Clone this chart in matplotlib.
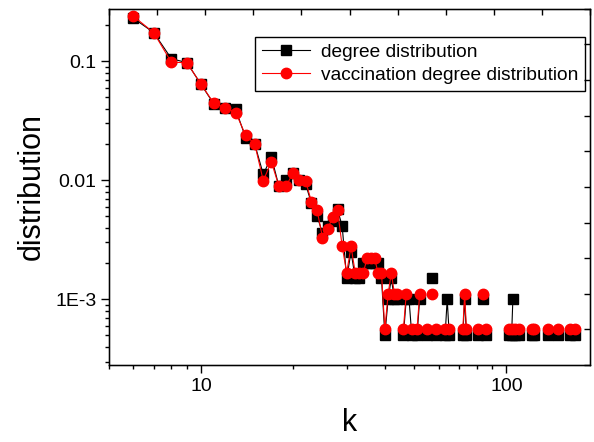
import numpy as np
import matplotlib
matplotlib.use("Agg")
import matplotlib.pyplot as plt
from matplotlib.ticker import FixedLocator, FuncFormatter, LogLocator, NullFormatter

plt.rcParams['font.family'] = ['Liberation Sans', 'DejaVu Sans']

# degree distribution (black squares); k values with zero count are absent
k_deg = [6, 7, 8, 9, 10, 11, 12, 13, 14, 15, 16, 17, 18, 19, 20, 21, 22, 23, 24, 25, 26, 27, 28,
         29, 30, 31, 32, 33, 34, 35, 36, 37, 38, 39, 40, 41, 42, 43, 44, 46, 47, 48, 49, 51, 52, 55,
         57, 59, 63, 64, 65, 72, 73, 74, 81, 84, 86, 102, 104, 105, 107, 110, 121, 123, 137, 147,
         162, 168]
p_deg = [0.23, 0.174, 0.105, 0.097, 0.064, 0.044, 0.0406, 0.0393, 0.0228, 0.0201, 0.0112, 0.0157,
         0.0089, 0.0101, 0.0115, 0.0100, 0.0093, 0.0064, 0.0050, 0.0036, 0.0041, 0.0045, 0.0057,
         0.0041, 0.0015, 0.0025, 0.0015, 0.0015, 0.002, 0.002, 0.002, 0.002, 0.002, 0.0015, 0.0005,
         0.001, 0.0015, 0.001, 0.001, 0.0005, 0.001, 0.001, 0.0005, 0.0005, 0.001, 0.0005,
         0.0015, 0.0005, 0.0005, 0.001, 0.0005, 0.0005, 0.001, 0.0005, 0.0005, 0.001, 0.0005,
         0.0005, 0.0005, 0.001, 0.0005, 0.0005, 0.0005, 0.0005, 0.0005, 0.0005, 0.0005, 0.0005]

# vaccination degree distribution (red circles)
k_vac = [6, 7, 8, 9, 10, 11, 12, 13, 14, 15, 16, 17, 18, 19, 20, 21, 22, 23, 24, 25, 26, 27, 28,
         29, 30, 31, 32, 33, 34, 35, 36, 37, 38, 39, 40, 41, 42, 43, 44, 46, 47, 49, 51, 52, 55,
         57, 59, 63, 65, 72, 73, 74, 81, 84, 86, 102, 104, 107, 110, 121, 123, 137, 147,
         162, 168]
p_vac = [0.239, 0.174, 0.098, 0.097, 0.064, 0.0446, 0.0406, 0.037, 0.0239, 0.0201, 0.0099, 0.0143,
         0.0089, 0.0089, 0.0115, 0.0100, 0.0099, 0.0066, 0.0056, 0.0033, 0.0039, 0.0049, 0.0056,
         0.00278, 0.00167, 0.00278, 0.00167, 0.00167, 0.00167, 0.00222, 0.00222, 0.00222, 0.00167,
         0.00167, 0.00056, 0.00111, 0.00167, 0.00111, 0.00111, 0.00056, 0.00111, 0.00056, 0.00056,
         0.00111, 0.00056, 0.00111, 0.00056, 0.00056, 0.00056, 0.00056, 0.00111, 0.00056, 0.00056,
         0.00111, 0.00056, 0.00056, 0.00056, 0.00056, 0.00056, 0.00056, 0.00056, 0.00056, 0.00056,
         0.00056, 0.00056]


def with_gaps(k, p):
    # missing degrees break the connecting line, like zero values on a log axis
    xs, ys = [], []
    for i in range(len(k)):
        if i > 0 and k[i] - k[i - 1] > 1:
            xs.append(np.nan)
            ys.append(np.nan)
        xs.append(k[i])
        ys.append(p[i])
    return xs, ys


fig = plt.figure(figsize=(5.94, 4.42), dpi=100)
ax = fig.add_axes([0.1835, 0.174, 0.81, 0.806])

x1, y1 = with_gaps(k_deg, p_deg)
x2, y2 = with_gaps(k_vac, p_vac)
ax.plot(x1, y1, color='black', lw=0.8, marker='s', ms=6.5, mec='black', mfc='black',
        label='degree distribution')
ax.plot(x2, y2, color='red', lw=0.8, marker='o', ms=7.5, mec='red', mfc='red',
        label='vaccination degree distribution')

ax.set_xscale('log')
ax.set_yscale('log')
ax.set_xlim(5, 188)
ax.set_ylim(2.8e-4, 0.275)

ax.xaxis.set_major_locator(FixedLocator([10, 100]))
ax.xaxis.set_major_formatter(FuncFormatter(lambda v, p: '%d' % v))
ax.xaxis.set_minor_locator(LogLocator(base=10, subs=np.arange(2, 10)))
ax.xaxis.set_minor_formatter(NullFormatter())

ax.yaxis.set_major_locator(FixedLocator([1e-3, 1e-2, 1e-1]))
ylab = {-3: '1E-3', -2: '0.01', -1: '0.1'}
ax.yaxis.set_major_formatter(FuncFormatter(lambda v, p: ylab[int(round(np.log10(v)))]))
ax.yaxis.set_minor_locator(LogLocator(base=10, subs=np.arange(2, 10)))
ax.yaxis.set_minor_formatter(NullFormatter())

ax.tick_params(which='major', direction='out', length=6, width=1, labelsize=14, pad=3,
               top=False, right=False)
ax.tick_params(which='minor', direction='out', length=3, width=1, top=False, right=False)
for s in ax.spines.values():
    s.set_linewidth(1)

# linear ticks on top and right frame
axt = ax.twiny()
axt.set_xlim(0, 1)
axt.set_xticks(np.linspace(0, 1, 11))
axt.tick_params(axis='x', direction='in', length=4, width=1, labeltop=False)
axr = ax.twinx()
axr.set_ylim(0, 1)
axr.set_yticks(np.linspace(0, 1, 11))
axr.tick_params(axis='y', direction='in', length=4, width=1, labelright=False)

ax.set_xlabel('k', fontsize=22, labelpad=10)
ax.set_ylabel('distribution', fontsize=22, labelpad=6)

leg = ax.legend(loc='upper right', bbox_to_anchor=(0.99, 0.922), fontsize=13.8, frameon=True,
                fancybox=False, edgecolor='black', framealpha=1, handlelength=2.5,
                borderpad=0.35, labelspacing=0.3, handletextpad=0.6, borderaxespad=0)
leg.get_frame().set_linewidth(1)

fig.savefig('out.png', dpi=100)
